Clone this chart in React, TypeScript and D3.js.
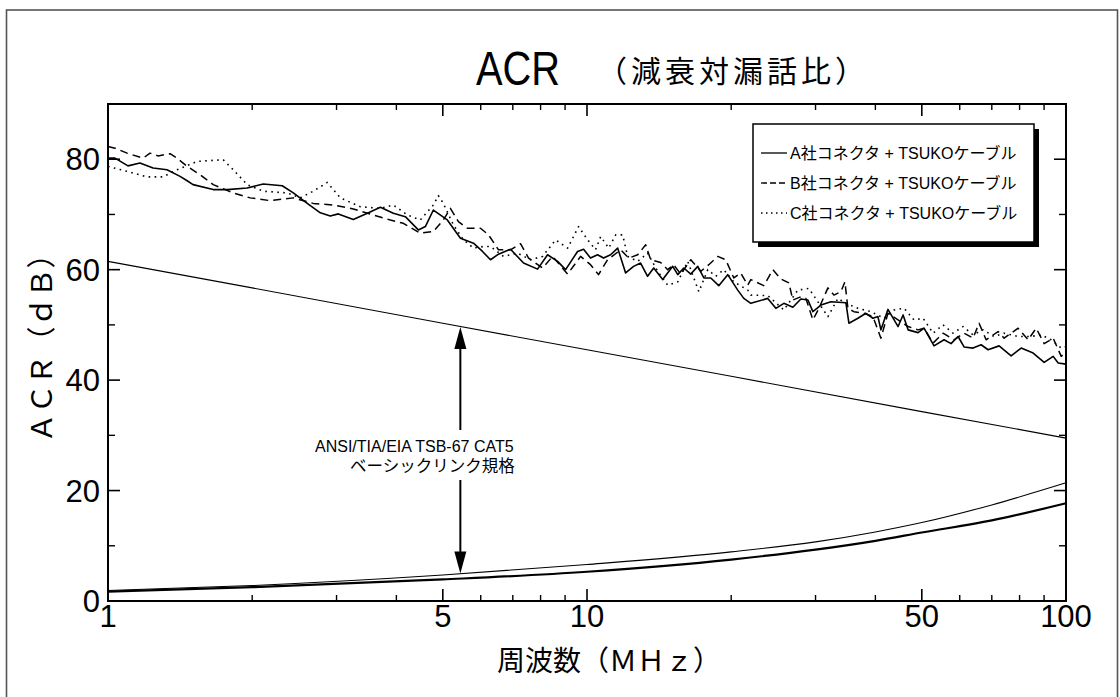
import React from 'react';
import * as d3 from 'd3';

const W = 1120, H = 697;

// Series A: A社コネクタ + TSUKOケーブル (solid)
const freqA = [1.00, 1.034, 1.101, 1.166, 1.242, 1.328, 1.414, 1.463, 1.505, 1.658, 1.774, 1.952, 2.109, 2.311, 2.437, 2.606, 2.775, 2.911, 3.026, 3.252, 3.479, 3.704, 3.942, 4.176, 4.445, 4.598, 4.778, 5.110, 5.442, 5.794, 6.051, 6.288, 6.535,
  6.924, 7.371, 7.885, 8.273, 8.682, 9.023, 9.557, 9.838, 10.17, 10.52, 10.83, 11.20, 11.59, 12.04, 12.51, 12.94, 13.38, 13.78, 14.39, 15.10, 15.47, 15.92, 16.47, 17.03, 17.54, 18.13, 18.84, 19.67, 20.64, 21.25,
  21.98, 23.84, 24.79, 25.76, 26.90, 27.96, 28.92, 29.62, 30.79, 32.30, 34.72, 35.22, 36.78, 38.22, 39.53, 40.49, 41.08, 42.49, 44.61, 45.70, 46.81, 49.11, 50.54, 53.03, 55.64, 57.54, 59.52, 61.26, 63.97, 66.49, 68.77, 72.50, 76.82, 80.61, 85.40, 90.03, 94.02, 96.32, 100];
const acrA = [80.2, 80.2, 78.8, 79.3, 78.4, 78.1, 76.9, 76.1, 75.4, 74.5, 74.5, 74.8, 75.5, 75.2, 73.9, 72.0, 70.3, 69.7, 70.1, 69.1, 70.2, 71.3, 70.2, 69.6, 67.2, 67.8, 70.8, 69.0, 65.7, 64.8, 63.3, 61.8, 62.8,
  63.7, 61.2, 60.1, 62.7, 61.5, 60.0, 63.3, 63.7, 62.1, 62.7, 62.1, 62.7, 63.9, 59.4, 60.6, 61.2, 58.8, 60.3, 58.2, 60.6, 59.1, 60.3, 59.2, 60.6, 58.5, 58.5, 57.1, 59.1, 56.3, 54.8,
  53.9, 54.8, 53.0, 53.9, 53.2, 54.7, 54.5, 52.4, 53.6, 54.2, 54.0, 50.3, 51.2, 52.1, 51.2, 51.5, 49.1, 52.8, 49.7, 51.8, 49.1, 48.6, 49.4, 46.2, 47.3, 46.6, 47.9, 46.0, 45.8, 46.4, 45.5, 46.2, 44.4, 45.8, 44.9, 43.2, 44.3, 43.1, 42.9];

// Series B: B社コネクタ + TSUKOケーブル (dashed)
const freqB = [1.00, 1.034, 1.096, 1.184, 1.224, 1.272, 1.348, 1.394, 1.463, 1.557, 1.658, 1.826, 1.981, 2.181, 2.437, 2.682, 2.953, 3.252, 3.581, 3.885, 4.136, 4.488, 4.778, 5.012, 5.186, 5.390, 5.628, 5.993, 6.228, 6.535,
  6.924, 7.265, 7.551, 8.077, 8.475, 9.110, 9.697, 10.17, 10.57, 11.04, 11.76, 12.22, 12.76, 13.26, 13.58, 14.25, 14.74, 15.17, 15.69, 16.47, 17.28, 17.96, 18.75, 19.48, 20.25, 20.94, 21.66,
  21.98, 23.39, 24.43, 25.40, 26.39, 26.90, 27.96, 28.64, 29.62, 30.49, 31.84, 32.77, 33.89, 34.55, 35.05, 36.08, 37.85, 39.53, 41.08, 42.49, 44.61, 46.81, 49.11, 50.54, 52.78, 55.37, 58.38, 61.26, 63.97, 65.85, 68.11, 72.15, 74.27, 79.45, 83.37, 86.64, 90.03, 94.02, 97.73, 100];
const acrB = [82.3, 82.0, 81.1, 80.2, 81.1, 80.6, 81.0, 80.2, 78.7, 77.2, 75.4, 73.9, 73.0, 72.5, 73.0, 72.0, 71.7, 71.0, 69.9, 69.0, 68.4, 66.6, 66.9, 69.0, 71.1, 68.7, 67.5, 67.5, 66.3, 63.6,
  63.6, 64.7, 62.1, 60.3, 62.4, 59.2, 62.4, 60.9, 59.1, 61.8, 63.6, 62.1, 62.7, 64.5, 61.8, 61.3, 60.0, 60.9, 59.2, 61.8, 59.7, 60.9, 62.4, 61.8, 58.5, 59.4, 57.2,
  58.2, 57.1, 60.0, 58.3, 57.6, 54.5, 55.1, 54.8, 50.9, 53.0, 56.7, 55.4, 56.0, 57.8, 53.0, 52.4, 52.1, 51.5, 47.6, 52.1, 50.9, 49.7, 49.1, 49.4, 46.7, 48.5, 47.3, 48.5, 47.6, 50.3, 47.3, 48.8, 47.6, 49.4, 47.3, 49.4, 46.6, 47.6, 44.3, 45.2];

// Series C: C社コネクタ + TSUKOケーブル (dotted)
const freqC = [1.00, 1.096, 1.207, 1.303, 1.394, 1.535, 1.658, 1.740, 1.826, 1.952, 2.109, 2.367, 2.519, 2.682, 2.870, 3.055, 3.364, 3.704, 3.942, 4.217, 4.488, 4.778, 4.895, 5.012, 5.262, 5.521, 5.794, 6.080,
  6.288, 6.694, 7.161, 7.624, 8.077, 8.599, 9.110, 9.604, 10.03, 10.42, 10.68, 11.10, 11.48, 11.87, 12.16, 12.76, 13.38, 14.05, 14.74, 15.47, 16.23, 17.12, 17.87, 18.57, 19.30, 20.25, 21.66,
  21.98, 23.84, 25.76, 27.56, 29.06, 30.49, 31.84, 33.41, 34.72, 36.78, 39.15, 41.68, 43.76, 45.92, 48.17, 50.30, 52.78, 55.37, 58.10, 60.97, 63.97, 67.13, 70.77, 74.27, 79.45, 84.58, 88.74, 93.12, 97.73, 100];
const acrC = [78.7, 77.8, 76.8, 76.8, 78.1, 79.6, 79.8, 79.9, 78.1, 75.4, 74.2, 73.9, 73.0, 74.2, 75.8, 73.0, 71.4, 71.1, 71.7, 69.9, 69.0, 71.7, 73.4, 72.0, 68.1, 65.4, 63.9, 64.2,
  64.2, 62.4, 63.0, 61.8, 62.4, 65.4, 63.9, 67.8, 65.4, 63.6, 66.0, 63.9, 66.3, 66.3, 62.4, 61.5, 63.0, 59.7, 57.2, 57.8, 61.5, 56.0, 60.0, 58.8, 60.0, 57.8, 56.3,
  55.4, 55.3, 52.7, 56.3, 56.6, 53.9, 51.5, 54.8, 53.9, 53.0, 52.4, 51.2, 52.7, 53.0, 50.9, 51.2, 48.5, 50.0, 48.5, 49.7, 48.2, 49.1, 47.9, 48.5, 47.9, 47.9, 48.2, 47.3, 45.8, 46.1];

// ANSI/TIA/EIA TSB-67 CAT5 basic link limit (upper straight line)
const limitFreq = [1, 2, 5, 10, 20, 50, 100];
const limitACR = [61.5, 56.7, 50.3, 45.5, 40.7, 34.3, 29.5];

// Lower curves (thin and thick)
const lowFreq = [1, 2, 5, 10, 20, 30, 40, 50, 70, 100];
const lowThin = [1.9, 2.8, 4.7, 6.6, 8.9, 10.7, 12.5, 14.2, 17.4, 21.4];
const lowThick = [1.7, 2.5, 3.9, 5.3, 7.5, 9.3, 10.9, 12.4, 14.6, 17.7];

// Arrow annotation
const arrowFreq = 5.44;
const arrowTopACR = 49.6;
const arrowBottomACR = 5.0;

const xMajorTicks = [1, 5, 10, 50, 100];
const xMinorTicks = [2, 3, 4, 6, 7, 8, 9, 20, 30, 40, 60, 70, 80, 90];
const yMajorTicks = [0, 20, 40, 60, 80];
const yMinorTicks = [10, 30, 50, 70];

const legendLabels = ['A社コネクタ + TSUKOケーブル', 'B社コネクタ + TSUKOケーブル', 'C社コネクタ + TSUKOケーブル'];
const dashes = ['none', '8,5', '1.6,4.4'];
const legendDashes = ['none', '6,3', '1.5,3.5'];

const LATIN = "'Liberation Sans', Arial, 'Noto Sans CJK JP', sans-serif";
const CJK = "'Noto Sans CJK JP', 'Liberation Sans', sans-serif";

export default function App() {
  const left = 108, right = 1066, top = 104, bottom = 601;
  const x = d3.scaleLog().domain([1, 100]).range([left, right]);
  const y = d3.scaleLinear().domain([0, 90]).range([bottom, top]);
  const line = d3.line<[number, number]>().x(d => x(d[0])).y(d => y(d[1]));
  const smooth = d3.line<[number, number]>().x(d => x(d[0])).y(d => y(d[1])).curve(d3.curveMonotoneX);

  const series = [
    d3.zip(freqA, acrA) as [number, number][],
    d3.zip(freqB, acrB) as [number, number][],
    d3.zip(freqC, acrC) as [number, number][],
  ];
  const widths = [1.6, 1.5, 1.6];

  const ax = x(arrowFreq);
  const aTop = y(arrowTopACR);
  const aBot = y(arrowBottomACR);

  const lgX = 753, lgY = 124, lgW = 281, lgH = 118;

  return (
    <svg width={W} height={H} style={{ position: 'absolute', left: 0, top: 0, background: '#fff' }}>
      <rect x={0} y={0} width={W} height={H} fill="#fff" />
      <rect x={6.5} y={10} width={1111} height={720} fill="none" stroke="#555" strokeWidth={1.6} />

      {/* title */}
      <text fontFamily={LATIN} fontSize={48} fill="#000" transform="translate(476,85) scale(0.83,1)">ACR</text>
      <text x={597} y={82} fontFamily={CJK} fontSize={30} letterSpacing={4} fill="#000">（減衰対漏話比）</text>

      {/* curves */}
      <path d={line(d3.zip(limitFreq, limitACR) as [number, number][]) || ''} fill="none" stroke="#000" strokeWidth={1.1} />
      <path d={smooth(d3.zip(lowFreq, lowThin) as [number, number][]) || ''} fill="none" stroke="#000" strokeWidth={1.1} />
      <path d={smooth(d3.zip(lowFreq, lowThick) as [number, number][]) || ''} fill="none" stroke="#000" strokeWidth={2.2} />
      {series.map((s, i) => (
        <path key={i} d={line(s) || ''} fill="none" stroke="#000" strokeWidth={widths[i]} strokeDasharray={dashes[i]} strokeLinejoin="round" />
      ))}

      {/* arrow */}
      <line x1={ax} x2={ax} y1={aTop + 20} y2={430} stroke="#000" strokeWidth={2} />
      <path d={`M${ax},${aTop} L${ax - 6},${aTop + 22} L${ax + 6},${aTop + 22} Z`} fill="#000" />
      <line x1={ax} x2={ax} y1={480} y2={aBot - 20} stroke="#000" strokeWidth={2} />
      <path d={`M${ax},${aBot} L${ax - 6},${aBot - 22} L${ax + 6},${aBot - 22} Z`} fill="#000" />
      <text x={315} y={452} fontFamily={LATIN} fontSize={16} fill="#000">ANSI/TIA/EIA TSB-67 CAT5</text>
      <text x={350} y={472} fontFamily={CJK} fontSize={16.5} fill="#000">ベーシックリンク規格</text>

      {/* axes frame */}
      <rect x={left} y={top} width={right - left} height={bottom - top} fill="none" stroke="#000" strokeWidth={2} />
      {xMajorTicks.map(t => (
        <g key={'xM' + t}>
          <line x1={x(t)} x2={x(t)} y1={bottom} y2={bottom - 12} stroke="#000" strokeWidth={1.6} />
          <line x1={x(t)} x2={x(t)} y1={top} y2={top + 12} stroke="#000" strokeWidth={1.6} />
          <text x={x(t)} y={627} textAnchor="middle" fontFamily={LATIN} fontSize={31} fill="#000">{t}</text>
        </g>
      ))}
      {xMinorTicks.map(t => (
        <g key={'xm' + t}>
          <line x1={x(t)} x2={x(t)} y1={bottom} y2={bottom - 6} stroke="#000" strokeWidth={1.4} />
          <line x1={x(t)} x2={x(t)} y1={top} y2={top + 6} stroke="#000" strokeWidth={1.4} />
        </g>
      ))}
      {yMajorTicks.map(t => (
        <g key={'yM' + t}>
          <line x1={left} x2={left + 12} y1={y(t)} y2={y(t)} stroke="#000" strokeWidth={1.6} />
          <line x1={right} x2={right - 12} y1={y(t)} y2={y(t)} stroke="#000" strokeWidth={1.6} />
          <text x={100} y={y(t)} dy="0.36em" textAnchor="end" fontFamily={LATIN} fontSize={31} fill="#000">{t}</text>
        </g>
      ))}
      {yMinorTicks.map(t => (
        <g key={'ym' + t}>
          <line x1={left} x2={left + 7} y1={y(t)} y2={y(t)} stroke="#000" strokeWidth={1.4} />
          <line x1={right} x2={right - 7} y1={y(t)} y2={y(t)} stroke="#000" strokeWidth={1.4} />
        </g>
      ))}

      {/* axis titles */}
      <text x={609} y={671} textAnchor="middle" fontFamily={CJK} fontSize={28} fill="#000">周波数（ＭＨｚ）</text>
      <text transform="translate(52,341) rotate(-90)" textAnchor="middle" fontFamily={CJK} fontSize={29} fill="#000">ＡＣＲ（ｄＢ）</text>

      {/* legend */}
      <rect x={lgX + 5} y={lgY + 5} width={lgW} height={lgH} fill="#000" />
      <rect x={lgX} y={lgY} width={lgW} height={lgH} fill="#fff" stroke="#000" strokeWidth={1.5} />
      {legendLabels.map((lab, i) => (
        <g key={lab}>
          <line x1={lgX + 8} x2={lgX + 34} y1={lgY + 29 + i * 30} y2={lgY + 29 + i * 30} stroke="#000" strokeWidth={1.3} strokeDasharray={legendDashes[i]} />
          <text x={lgX + 37} y={lgY + 29 + i * 30} dy="0.36em" fontFamily={LATIN} fontSize={16} fill="#000">{lab}</text>
        </g>
      ))}
    </svg>
  );
}
